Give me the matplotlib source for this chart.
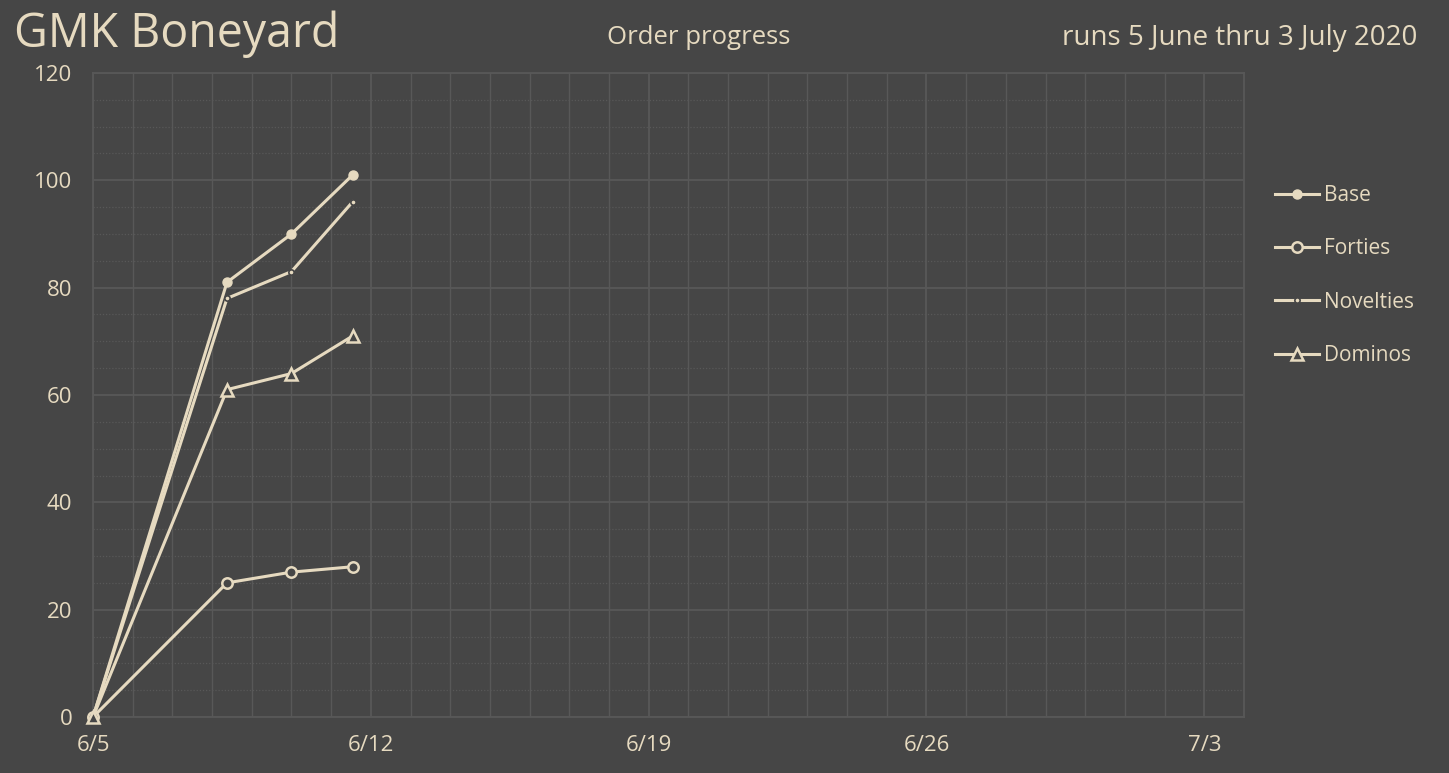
import matplotlib
matplotlib.use("Agg")
import matplotlib.pyplot as plt
import matplotlib.dates as mdates
import numpy as np
from datetime import datetime

# data
times = ["2020-06-05 00:00", "2020-06-08 09:00", "2020-06-10 00:00", "2020-06-11 13:00"]
base = [0, 81, 90, 101]
forties = [0, 25, 27, 28]
novelties = [0, 78, 83, 96]
dominos = [0, 61, 64, 71]

tick_dates = ["2020-06-05", "2020-06-12", "2020-06-19", "2020-06-26", "2020-07-03"]
tick_labels = ["6/5", "6/12", "6/19", "6/26", "7/3"]

bg = "#464646"
fg = "#e6dac0"
grid = "#585858"

plt.rcParams['font.family'] = ['Open Sans', 'DejaVu Sans']

x = [datetime.strptime(t, "%Y-%m-%d %H:%M") for t in times]

fig = plt.figure(figsize=(14.49, 7.73), dpi=100, facecolor=bg)
ax = fig.add_axes([0.0642, 0.0724, 0.7943, 0.8332], facecolor=bg)

lw = 2.2
ax.plot(x, base, color=fg, lw=lw, marker='o', ms=6.5, mfc=fg, mec=fg, label='Base', zorder=5, clip_on=False)
ax.plot(x, forties, color=fg, lw=lw, marker='o', ms=7.5, mfc=bg, mec=fg, mew=1.8, label='Forties', zorder=5, clip_on=False)
ax.plot(x, novelties, color=fg, lw=lw, marker='o', ms=3.8, mfc=fg, mec=bg, mew=1.2, label='Novelties', zorder=5, clip_on=False)
ax.plot(x, dominos, color=fg, lw=lw, marker='^', ms=9, mfc=bg, mec=fg, mew=1.8, label='Dominos', zorder=5, clip_on=False)

ax.set_xlim(datetime(2020, 6, 5), datetime(2020, 7, 4))
ax.set_ylim(0, 120)
ax.set_yticks(np.arange(0, 121, 20))
ax.set_yticks(np.arange(0, 121, 5), minor=True)
ax.set_xticks([datetime.strptime(d, "%Y-%m-%d") for d in tick_dates])
ax.set_xticklabels(tick_labels)
ax.xaxis.set_minor_locator(mdates.DayLocator())

ax.grid(True, which='major', axis='both', color=grid, lw=1.3)
ax.grid(True, which='minor', axis='x', color=grid, lw=1.0)
ax.grid(True, which='minor', axis='y', color=grid, lw=0.9, ls=(0, (1, 1.5)))
ax.set_axisbelow(True)

for s in ax.spines.values():
    s.set_color(grid)
    s.set_linewidth(1.3)

ax.tick_params(which='both', length=0, colors=fg, labelsize=16)
ax.tick_params(axis='x', pad=13)
ax.tick_params(axis='y', pad=15)

fig.text(0.0097, 0.956, "GMK Boneyard", color=fg, fontsize=33.5, va='center', ha='left')
fig.text(0.4825, 0.951, "Order progress", color=fg, fontsize=18.5, va='center', ha='center')
fig.text(0.978, 0.951, "runs 5 June thru 3 July 2020", color=fg, fontsize=20, va='center', ha='right')

leg = fig.legend(loc='upper left', bbox_to_anchor=(0.867, 0.785), frameon=False,
                 labelcolor=fg, fontsize=15, labelspacing=1.55, handlelength=2.1,
                 handletextpad=0.25)

fig.savefig("out.png", dpi=100, facecolor=bg)
